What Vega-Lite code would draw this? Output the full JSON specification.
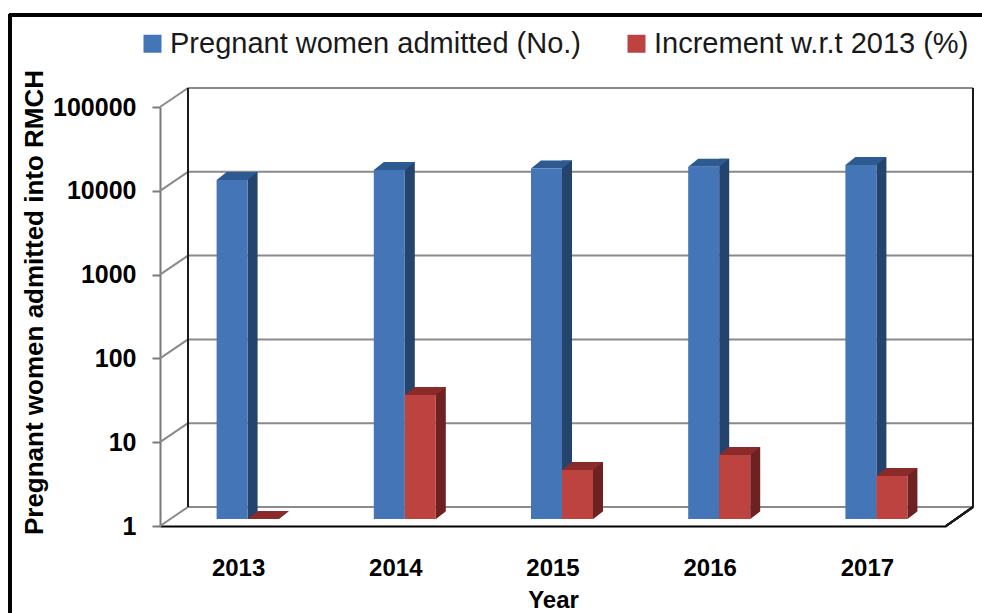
{
  "$schema": "https://vega.github.io/schema/vega-lite/v6.json",
  "width": 786,
  "height": 419,
  "autosize": "none",
  "padding": {"left": 160, "top": 107, "right": 36, "bottom": 87},
  "background": "white",
  "config": {
    "view": {"stroke": null},
    "font": "Liberation Sans",
    "legend": {
      "symbolType": "square",
      "symbolSize": 324,
      "symbolStrokeWidth": 0,
      "labelFont": "Liberation Sans",
      "labelFontSize": 29,
      "labelColor": "#1a1a1a",
      "labelOffset": 3,
      "columnPadding": 40,
      "labelLimit": 700,
      "padding": 0,
      "rowPadding": 0
    }
  },
  "datasets": {
    "bars": [
      {"year": "2013", "series": "Pregnant women admitted (No.)", "value": 11100},
      {"year": "2014", "series": "Pregnant women admitted (No.)", "value": 14600},
      {"year": "2015", "series": "Pregnant women admitted (No.)", "value": 15200},
      {"year": "2016", "series": "Pregnant women admitted (No.)", "value": 16000},
      {"year": "2017", "series": "Pregnant women admitted (No.)", "value": 16800},
      {"year": "2013", "series": "Increment w.r.t  2013 (%)", "value": 1},
      {"year": "2014", "series": "Increment w.r.t  2013 (%)", "value": 30.2},
      {"year": "2015", "series": "Increment w.r.t  2013 (%)", "value": 3.84},
      {"year": "2016", "series": "Increment w.r.t  2013 (%)", "value": 5.8},
      {"year": "2017", "series": "Increment w.r.t  2013 (%)", "value": 3.26}
    ],
    "grid": [{"v": 1}, {"v": 10}, {"v": 100}, {"v": 1000}, {"v": 10000}, {"v": 100000}]
  },
  "resolve": {"scale": {"x": "independent"}},
  "layer": [
    {
      "data": {"name": "grid"},
      "layer": [
        {
          "mark": {"type": "rule", "color": "#8a8a8a", "strokeWidth": 2, "xOffset": 28, "x2Offset": 27, "yOffset": -19, "y2Offset": -19},
          "encoding": {
            "x": {"datum": 0, "type": "quantitative", "scale": {"domain": [0, 1]}, "axis": null},
            "x2": {"datum": 1},
            "y": {"field": "v", "type": "quantitative", "scale": {"type": "log", "domain": [1, 100000]}},
            "y2": {"field": "v"}
          }
        },
        {
          "mark": {"type": "rule", "color": "#8a8a8a", "strokeWidth": 2, "x2Offset": 28, "y2Offset": -19},
          "encoding": {
            "x": {"datum": 0, "type": "quantitative", "scale": {"domain": [0, 1]}, "axis": null},
            "x2": {"datum": 0},
            "y": {"field": "v", "type": "quantitative"},
            "y2": {"field": "v"}
          }
        },
        {
          "mark": {"type": "rule", "color": "#1a1a1a", "strokeWidth": 2, "xOffset": 28, "x2Offset": 28, "yOffset": -19, "y2Offset": -19},
          "encoding": {
            "x": {"datum": 0, "type": "quantitative", "scale": {"domain": [0, 1]}, "axis": null},
            "x2": {"datum": 0},
            "y": {"datum": 1, "type": "quantitative"},
            "y2": {"datum": 100000}
          }
        },
        {
          "mark": {"type": "rule", "color": "#1a1a1a", "strokeWidth": 2, "xOffset": 27, "x2Offset": 27, "yOffset": -19, "y2Offset": -19},
          "encoding": {
            "x": {"datum": 1, "type": "quantitative", "scale": {"domain": [0, 1]}, "axis": null},
            "x2": {"datum": 1},
            "y": {"datum": 1, "type": "quantitative"},
            "y2": {"datum": 100000}
          }
        },
        {
          "mark": {"type": "rule", "color": "#1a1a1a", "strokeWidth": 2, "x2Offset": 27, "y2Offset": -19},
          "encoding": {
            "x": {"datum": 1, "type": "quantitative", "scale": {"domain": [0, 1]}, "axis": null},
            "x2": {"datum": 1},
            "y": {"datum": 1, "type": "quantitative"},
            "y2": {"datum": 1}
          }
        },
        {
          "mark": {"type": "rule", "color": "#000000", "strokeWidth": 3, "xOffset": -151, "x2Offset": 40, "yOffset": -92, "y2Offset": -92},
          "encoding": {
            "x": {"datum": 0, "type": "quantitative", "scale": {"domain": [0, 1]}, "axis": null},
            "x2": {"datum": 1},
            "y": {"datum": 100000, "type": "quantitative"},
            "y2": {"datum": 100000}
          }
        },
        {
          "mark": {"type": "rule", "color": "#000000", "strokeWidth": 3, "xOffset": -150, "x2Offset": -150, "yOffset": -93, "y2Offset": 95},
          "encoding": {
            "x": {"datum": 0, "type": "quantitative", "scale": {"domain": [0, 1]}, "axis": null},
            "x2": {"datum": 0},
            "y": {"datum": 100000, "type": "quantitative"},
            "y2": {"datum": 1}
          }
        }
      ]
    },
    {
      "data": {"name": "bars"},
      "layer": [
        {
          "transform": [{"filter": {"field": "series", "equal": "Pregnant women admitted (No.)"}}],
          "mark": {"type": "bar", "width": 10, "xOffset": 14, "yOffset": -15, "y2Offset": -7, "color": "#24446E"},
          "encoding": {
            "x": {"field": "year", "type": "ordinal", "scale": {"type": "band", "paddingInner": 0.5, "paddingOuter": 0.25}},
            "y": {"field": "value", "type": "quantitative"},
            "y2": {"datum": 1}
          }
        },
        {
          "transform": [{"filter": {"field": "series", "equal": "Increment w.r.t  2013 (%)"}}],
          "mark": {"type": "bar", "width": 10, "xOffset": 45, "yOffset": -15, "y2Offset": -7, "color": "#6E2121"},
          "encoding": {
            "x": {"field": "year", "type": "ordinal", "scale": {"type": "band", "paddingInner": 0.5, "paddingOuter": 0.25}},
            "y": {"field": "value", "type": "quantitative"},
            "y2": {"datum": 1}
          }
        },
        {
          "transform": [{"filter": {"field": "series", "equal": "Increment w.r.t  2013 (%)"}}],
          "mark": {"type": "point", "shape": "M3.95,0.06L5.12,0.06L5.12,-0.86Z", "size": 400, "filled": true, "opacity": 1, "strokeWidth": 0, "color": "#ffffff", "yOffset": -7},
          "encoding": {
            "x": {"field": "year", "type": "ordinal", "scale": {"type": "band", "paddingInner": 0.5, "paddingOuter": 0.25}},
            "y": {"datum": 1, "type": "quantitative"}
          }
        },
        {
          "transform": [{"filter": {"field": "series", "equal": "Pregnant women admitted (No.)"}}],
          "mark": {"type": "point", "shape": "M-1.55,0L1.55,0L2.55,-0.8L-0.55,-0.8Z", "size": 400, "filled": true, "opacity": 1, "strokeWidth": 0, "color": "#2D5A91", "xOffset": -6.5, "yOffset": -7},
          "encoding": {
            "x": {"field": "year", "type": "ordinal", "scale": {"type": "band", "paddingInner": 0.5, "paddingOuter": 0.25}},
            "y": {"field": "value", "type": "quantitative"}
          }
        },
        {
          "transform": [{"filter": {"field": "series", "equal": "Increment w.r.t  2013 (%)"}}],
          "mark": {"type": "point", "shape": "M-1.55,0L1.55,0L2.55,-0.8L-0.55,-0.8Z", "size": 400, "filled": true, "opacity": 1, "strokeWidth": 0, "color": "#8A2B29", "xOffset": 24.5, "yOffset": -7},
          "encoding": {
            "x": {"field": "year", "type": "ordinal", "scale": {"type": "band", "paddingInner": 0.5, "paddingOuter": 0.25}},
            "y": {"field": "value", "type": "quantitative"}
          }
        },
        {
          "transform": [{"filter": {"field": "series", "equal": "Pregnant women admitted (No.)"}}],
          "mark": {"type": "bar", "width": 31, "xOffset": -6.5, "yOffset": -7, "y2Offset": -7},
          "encoding": {
            "x": {
              "field": "year", "type": "ordinal",
              "scale": {"type": "band", "paddingInner": 0.5, "paddingOuter": 0.25},
              "axis": {
                "title": "Year", "titleFont": "Liberation Sans", "titleFontSize": 24, "titleFontWeight": "bold", "titleColor": "#000000", "titlePadding": 8,
                "labelAngle": 0, "labelAlign": "center", "labelFont": "Liberation Sans", "labelFontSize": 24, "labelFontWeight": "bold", "labelColor": "#000000", "labelPadding": 42,
                "ticks": false, "domainColor": "#000000", "domainWidth": 2, "grid": false
              }
            },
            "y": {
              "field": "value", "type": "quantitative",
              "scale": {"type": "log", "domain": [1, 100000]},
              "axis": {
                "title": "Pregnant women admitted into RMCH", "titleFont": "Liberation Sans", "titleFontSize": 26, "titleFontWeight": "bold", "titleColor": "#000000",
                "titleX": -126, "titleY": 195, "titleAngle": -90, "titleAlign": "center", "titleBaseline": "middle",
                "values": [1, 10, 100, 1000, 10000, 100000], "format": "d",
                "labelFont": "Liberation Sans", "labelFontSize": 25, "labelFontWeight": "bold", "labelColor": "#000000", "labelPadding": 16,
                "tickSize": 8, "tickColor": "#7a7a7a", "tickWidth": 2, "domainColor": "#7a7a7a", "domainWidth": 2, "grid": false
              }
            },
            "y2": {"datum": 1},
            "color": {
              "field": "series", "type": "nominal",
              "scale": {"domain": ["Pregnant women admitted (No.)", "Increment w.r.t  2013 (%)"], "range": ["#4475B7", "#BD4341"]},
              "legend": {"title": null, "orient": "none", "direction": "horizontal", "legendX": -22, "legendY": -78}
            }
          }
        },
        {
          "transform": [{"filter": {"field": "series", "equal": "Increment w.r.t  2013 (%)"}}],
          "mark": {"type": "bar", "width": 31, "xOffset": 24.5, "yOffset": -7, "y2Offset": -7},
          "encoding": {
            "x": {"field": "year", "type": "ordinal", "scale": {"type": "band", "paddingInner": 0.5, "paddingOuter": 0.25}},
            "y": {"field": "value", "type": "quantitative"},
            "y2": {"datum": 1},
            "color": {
              "field": "series", "type": "nominal",
              "legend": {"title": null, "orient": "none", "direction": "horizontal", "legendX": -22, "legendY": -78}
            }
          }
        }
      ]
    }
  ]
}
